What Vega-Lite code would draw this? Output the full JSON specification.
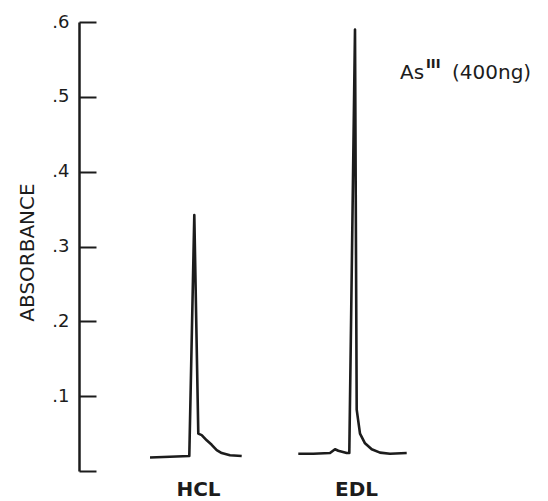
{
  "$schema": "https://vega.github.io/schema/vega-lite/v6.json",
  "width": 460,
  "height": 449,
  "autosize": {"type": "none"},
  "padding": {"left": 79, "top": 22, "right": 9, "bottom": 30},
  "background": "white",
  "config": {"view": {"stroke": null}},
  "datasets": {
    "traces": [
      {"sample": "HCL", "t": 7.1, "a": 0.018},
      {"sample": "HCL", "t": 9.1, "a": 0.019},
      {"sample": "HCL", "t": 11.03, "a": 0.020},
      {"sample": "HCL", "t": 11.53, "a": 0.342},
      {"sample": "HCL", "t": 11.93, "a": 0.050},
      {"sample": "HCL", "t": 12.27, "a": 0.048},
      {"sample": "HCL", "t": 12.77, "a": 0.041},
      {"sample": "HCL", "t": 13.27, "a": 0.035},
      {"sample": "HCL", "t": 13.77, "a": 0.028},
      {"sample": "HCL", "t": 14.27, "a": 0.024},
      {"sample": "HCL", "t": 15.1, "a": 0.021},
      {"sample": "HCL", "t": 16.27, "a": 0.020},
      {"sample": "EDL", "t": 21.93, "a": 0.023},
      {"sample": "EDL", "t": 23.43, "a": 0.023},
      {"sample": "EDL", "t": 25.1, "a": 0.024},
      {"sample": "EDL", "t": 25.6, "a": 0.029},
      {"sample": "EDL", "t": 25.93, "a": 0.027},
      {"sample": "EDL", "t": 26.77, "a": 0.024},
      {"sample": "EDL", "t": 27.03, "a": 0.024},
      {"sample": "EDL", "t": 27.6, "a": 0.590},
      {"sample": "EDL", "t": 27.77, "a": 0.082},
      {"sample": "EDL", "t": 28.1, "a": 0.050},
      {"sample": "EDL", "t": 28.6, "a": 0.037},
      {"sample": "EDL", "t": 29.27, "a": 0.029},
      {"sample": "EDL", "t": 30.1, "a": 0.0245},
      {"sample": "EDL", "t": 31.1, "a": 0.023},
      {"sample": "EDL", "t": 32.77, "a": 0.024}
    ],
    "note": [
      {"t": 32.1, "a": 0.524, "text": "As"},
      {"t": 37.3, "a": 0.524, "text": "(400ng)"}
    ],
    "sup": [
      {"t": 34.7, "a": 0.539, "text": "III"}
    ]
  },
  "layer": [
    {
      "data": {"name": "traces"},
      "mark": {"type": "line", "color": "#1c1c1c", "strokeWidth": 2.6, "strokeJoin": "round"},
      "encoding": {
        "x": {
          "field": "t", "type": "quantitative",
          "scale": {"domain": [0, 46], "nice": false, "zero": false},
          "axis": {
            "values": [11.9, 27.7],
            "labelExpr": "datum.value < 20 ? 'HCL' : 'EDL'",
            "domain": false, "ticks": false, "grid": false, "title": null,
            "labelFont": "DejaVu Sans", "labelFontWeight": "bold", "labelFontSize": 20,
            "labelColor": "#1c1c1c", "labelPadding": 8, "labelFlush": false
          }
        },
        "y": {
          "field": "a", "type": "quantitative",
          "scale": {"domain": [0, 0.6], "nice": false},
          "axis": {
            "values": [0, 0.1, 0.2, 0.3, 0.4, 0.5, 0.6],
            "labelExpr": "datum.value == 0 ? '' : replace(format(datum.value, '.1f'), '0.', '.')",
            "grid": false,
            "domainColor": "#1c1c1c", "domainWidth": 2.5,
            "tickColor": "#1c1c1c", "tickWidth": 2, "tickSize": -17,
            "labelFont": "DejaVu Sans", "labelFontSize": 18, "labelColor": "#1c1c1c",
            "labelPadding": 27, "labelFlush": false,
            "title": "ABSORBANCE",
            "titleFont": "DejaVu Sans", "titleFontSize": 20, "titleFontWeight": "normal",
            "titleColor": "#1c1c1c", "titleAngle": -90,
            "titleAlign": "center", "titleBaseline": "middle",
            "titleX": -52, "titleY": 230
          }
        },
        "detail": {"field": "sample"}
      }
    },
    {
      "data": {"name": "note"},
      "mark": {"type": "text", "font": "DejaVu Sans", "fontSize": 20, "align": "left", "baseline": "alphabetic", "color": "#1c1c1c"},
      "encoding": {
        "x": {"field": "t", "type": "quantitative"},
        "y": {"field": "a", "type": "quantitative"},
        "text": {"field": "text"}
      }
    },
    {
      "data": {"name": "sup"},
      "mark": {"type": "text", "font": "DejaVu Sans", "fontSize": 13, "fontWeight": "bold", "align": "left", "baseline": "alphabetic", "color": "#1c1c1c"},
      "encoding": {
        "x": {"field": "t", "type": "quantitative"},
        "y": {"field": "a", "type": "quantitative"},
        "text": {"field": "text"}
      }
    }
  ]
}
